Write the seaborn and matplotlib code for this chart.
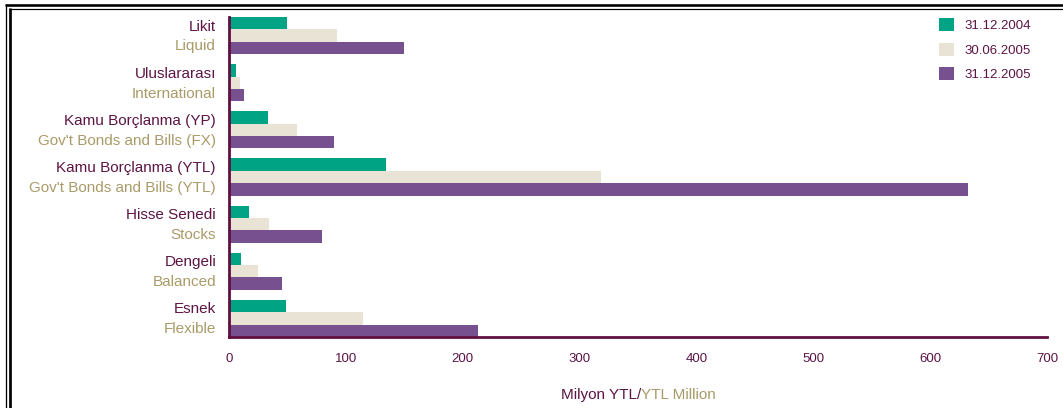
import matplotlib
matplotlib.use("Agg")
import matplotlib.pyplot as plt
from matplotlib.lines import Line2D
import seaborn as sns
import pandas as pd

# Fund categories (Turkish / English) and portfolio sizes in million YTL
categories_tr = ["Likit", "Uluslararası", "Kamu Borçlanma (YP)", "Kamu Borçlanma (YTL)",
                 "Hisse Senedi", "Dengeli", "Esnek"]
categories_en = ["Liquid", "International", "Gov't Bonds and Bills (FX)",
                 "Gov't Bonds and Bills (YTL)", "Stocks", "Balanced", "Flexible"]
dates = ["31.12.2004", "30.06.2005", "31.12.2005"]
values_2004_12 = [49.5, 6, 33, 134, 17.5, 10.5, 48.5]
values_2005_06 = [92, 9.5, 58, 318.5, 34, 24.5, 115]
values_2005_12 = [150, 13, 89.5, 632, 80, 45, 213.5]
x_ticks = [0, 100, 200, 300, 400, 500, 600, 700]

GREEN = "#00a383"
BEIGE = "#e8e3d4"
PURPLE = "#77518f"
MAROON = "#5c1444"
OLIVE = "#a89b68"
SPINE = "#5e0f3f"

df = pd.DataFrame({
    "category": categories_tr * 3,
    "date": [d for d in dates for _ in categories_tr],
    "value": values_2004_12 + values_2005_06 + values_2005_12,
})

sns.set_theme(style="white")
plt.rcParams["font.family"] = ["Liberation Sans", "DejaVu Sans"]

W, H = 1063, 408
fig = plt.figure(figsize=(W / 100, H / 100), dpi=100)
fig.patch.set_facecolor("white")

left, right, top, bottom = 229, 1047, 17, 337
ax = fig.add_axes([left / W, 1 - bottom / H, (right - left) / W, (bottom - top) / H])

sns.barplot(data=df, y="category", x="value", hue="date", orient="h",
            order=categories_tr, hue_order=dates,
            palette=[GREEN, BEIGE, PURPLE], width=0.79, gap=0,
            saturation=1, errorbar=None, legend=False, ax=ax,
            edgecolor="none", linewidth=0)

ax.set_xlim(0, 700)
ax.set_ylim(6.395, -0.395)
ax.set_xticks(x_ticks)
ax.set_xticklabels([str(t) for t in x_ticks], fontsize=9.5, color=MAROON)
ax.tick_params(axis="x", length=0, pad=11.5)
ax.set_yticks([])
ax.set_xlabel("")
ax.set_ylabel("")

for side in ["top", "right"]:
    ax.spines[side].set_visible(False)
for side in ["left", "bottom"]:
    ax.spines[side].set_color(SPINE)
    ax.spines[side].set_linewidth(2.0)
ax.spines["bottom"].set_bounds(0, 700)

# Two-language category labels
for i, (tr, en) in enumerate(zip(categories_tr, categories_en)):
    ax.text(-13 / (right - left), i - 0.19, tr, transform=ax.get_yaxis_transform(),
            ha="right", va="center", fontsize=11, color=MAROON)
    ax.text(-13 / (right - left), i + 0.23, en, transform=ax.get_yaxis_transform(),
            ha="right", va="center", fontsize=11, color=OLIVE)

# Legend
handles = [plt.Rectangle((0, 0), 1, 1, facecolor=c, edgecolor="none")
           for c in [GREEN, BEIGE, PURPLE]]
leg = fig.legend(handles, dates, loc="upper left",
                 bbox_to_anchor=(939 / W, 1 - 18 / H), frameon=False,
                 fontsize=9.5, handlelength=1.15, handleheight=1.15,
                 handletextpad=0.75, labelspacing=0.8, borderpad=0,
                 borderaxespad=0)
for t in leg.get_texts():
    t.set_color(MAROON)

# Axis title in two colours
fig.text(641 / W, 1 - 395 / H, "Milyon YTL/", ha="right", va="center",
         fontsize=11, color=MAROON)
fig.text(641 / W, 1 - 395 / H, "YTL Million", ha="left", va="center",
         fontsize=11, color=OLIVE)

# Double page frame
def px_line(x0, y0, x1, y1, lw_px):
    fig.add_artist(Line2D([x0 / W, x1 / W], [1 - y0 / H, 1 - y1 / H],
                          transform=fig.transFigure, color="black",
                          linewidth=lw_px * 0.72, solid_capstyle="butt"))

px_line(5.5, 4, 5.5, H, 1.3)
px_line(9.7, 7.5, 9.7, H, 2.7)
px_line(4.8, 5.3, W, 5.3, 2.6)
px_line(9, 8.5, W, 8.5, 1.2)

fig.savefig("out.png", dpi=100, facecolor="white")
